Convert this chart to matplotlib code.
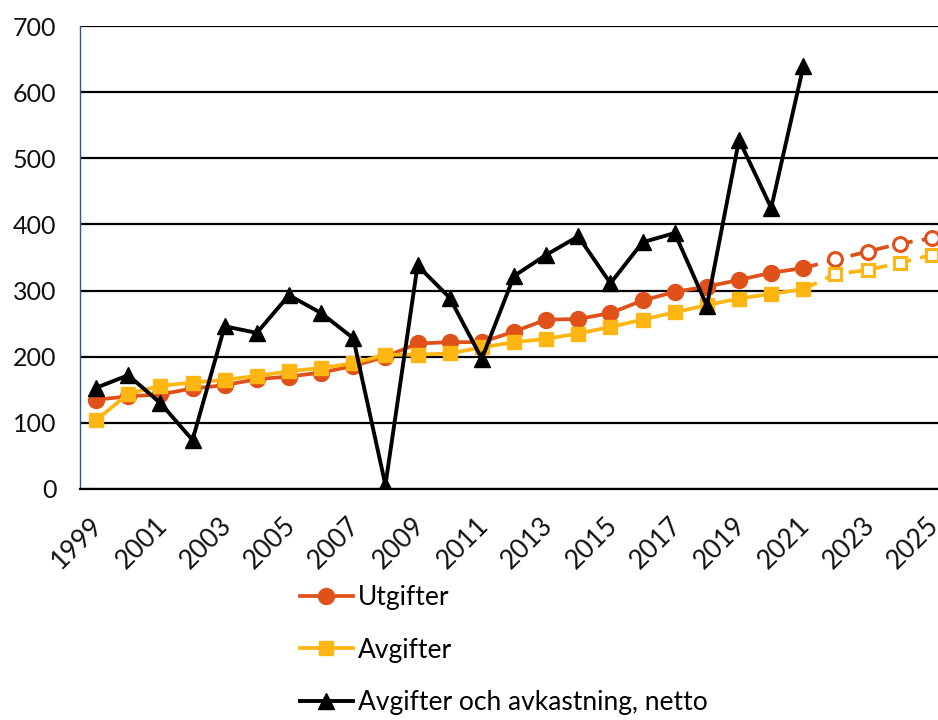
import matplotlib
matplotlib.use("Agg")
import matplotlib.pyplot as plt
import matplotlib.transforms as mtransforms

plt.rcParams['font.family'] = ['Lato', 'DejaVu Sans']

years = list(range(1999, 2026))
utgifter = [135, 140, 143, 152, 157, 166, 170, 176, 186, 200, 220, 222, 222, 238, 256, 257, 266, 285, 298, 306, 316, 327, 334,
            347, 359, 371, 379]
avgifter = [104, 144, 156, 161, 165, 171, 178, 183, 190, 203, 203, 205, 214, 222, 227, 235, 245, 256, 267, 278, 288, 295, 302,
            325, 331, 342, 354]
netto = [153, 172, 130, 74, 246, 236, 293, 266, 228, 6, 338, 289, 197, 322, 354, 382, 311, 373, 387, 277, 528, 425, 639]
n_actual = 23  # 1999-2021 utfall, 2022-2025 prognos

red = '#E0511A'
yellow = '#FFB612'

x = list(range(len(years)))

fig = plt.figure(figsize=(9.38, 7.2), dpi=100)
ax = fig.add_axes([80 / 938, 1 - 489 / 720, 868 / 938, (489 - 26) / 720])

for vals, col, mk, ms, lab in [(utgifter, red, 'o', 11.5, 'Utgifter'), (avgifter, yellow, 's', 10.5, 'Avgifter')]:
    ax.plot(x[:n_actual], vals[:n_actual], color=col, lw=2.7, marker=mk, ms=ms, label=lab, zorder=3)
    ax.plot(x[n_actual - 1:], vals[n_actual - 1:], color=col, lw=2.7, ls=(0, (4, 2.5)), zorder=2)
    ax.plot(x[n_actual:], vals[n_actual:], ls='none', marker=mk, ms=ms - 1.5, mfc='white', mec=col, mew=2.2, zorder=3)

ax.plot(x[:len(netto)], netto, color='black', lw=2.8, marker='^', ms=11.5, label='Avgifter och avkastning, netto', zorder=4)

ax.set_xlim(-0.5, len(years) - 0.5)
ax.set_ylim(0, 700)
ax.set_yticks(range(0, 701, 100))
ax.set_xticks(x[::2])
ax.set_xticklabels([str(y) for y in years[::2]], rotation=45, ha='right', rotation_mode='anchor')
ax.tick_params(axis='both', length=0, labelsize=18, colors='#111111')
ax.tick_params(axis='x', labelsize=19, pad=17)
ax.tick_params(axis='y', pad=17)
offset = mtransforms.ScaledTranslation(-6 / 100, 0, fig.dpi_scale_trans)
for lbl in ax.get_xticklabels():
    lbl.set_transform(lbl.get_transform() + offset)
ax.grid(axis='y', color='black', lw=1.6, zorder=0)
for s in ['top', 'right']:
    ax.spines[s].set_visible(False)
ax.spines['bottom'].set_color('black')
ax.spines['bottom'].set_linewidth(1.6)
ax.spines['left'].set_color('#2F5597')
ax.spines['left'].set_linewidth(1.0)

fig.legend(loc='upper left', bbox_to_anchor=(300 / 938, 1 - 585 / 720), frameon=False, fontsize=19,
           handlelength=2.0, handletextpad=0.2, labelspacing=1.05, borderpad=0, borderaxespad=0)

fig.savefig('out.png', dpi=100)
